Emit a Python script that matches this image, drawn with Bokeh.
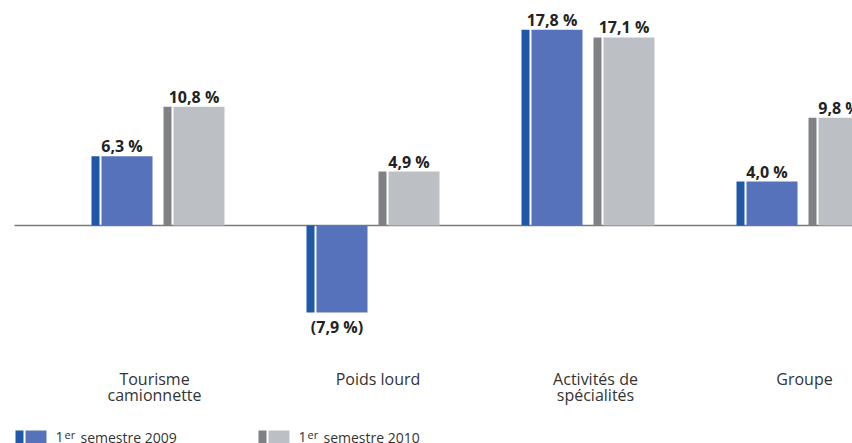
from bokeh.plotting import figure
from bokeh.models import Range1d, ColumnDataSource
from bokeh.core.properties import value
from bokeh.embed import file_html
from bokeh.resources import INLINE

# ---- data ----
categories = ["Tourisme\ncamionnette", "Poids lourd", "Activités de\nspécialités", "Groupe"]
s2009 = [6.3, -7.9, 17.8, 4.0]
s2010 = [10.8, 4.9, 17.1, 9.8]
series_names = ["semestre 2009", "semestre 2010"]

# ---- style ----
BLUE_DARK = "#1f58a8"
BLUE = "#5572ba"
GRAY_DARK = "#7f8184"
GRAY = "#bcc0c4"
FONT = "Open Sans"
TXT = "#333333"
LABEL_DX = [-3.5, 5.0, 7.5, 1.5]   # small horizontal nudges of category labels (px)

W, H = 852, 443
CAT_PX = 215.0        # pixels per category
PX_PER_UNIT = 11.0    # pixels per percent
X0_PX = 157.5         # screen x of first category centre
Y0_PX = 225.0         # screen y of zero line


def X(px):
    return (px - X0_PX) / CAT_PX


def Y(py):
    return (Y0_PX - py) / PX_PER_UNIT


def dx(px):
    return px / CAT_PX


p = figure(width=W, height=H, output_backend="svg", toolbar_location=None,
           x_range=Range1d(X(0), X(W)), y_range=Range1d(Y(H), Y(0)),
           min_border=0, outline_line_color=None)
p.axis.visible = False
p.grid.visible = False
p.background_fill_color = "white"

# zero line
p.segment(x0=[X(14)], y0=[0], x1=[X(870)], y1=[0], line_color="#7a7a7a", line_width=1.5)

idx = list(range(len(categories)))


def fmt(v):
    s = f"{abs(v):.1f}".replace(".", ",") + " %"
    return f"({s})" if v < 0 else s


for vals, off, dark, light in [(s2009, -36, BLUE_DARK, BLUE), (s2010, 36, GRAY_DARK, GRAY)]:
    src = ColumnDataSource(dict(
        x=[i + dx(off) for i in idx],
        top=[max(v, 0) for v in vals],
        bottom=[min(v, 0) for v in vals],
        label=[fmt(v) for v in vals],
        yoff=[-10 if v >= 0 else 15 for v in vals],
        sl=[i + dx(off - 30.5) for i in idx],
        sr=[i + dx(off - 22.5) for i in idx],
        ml=[i + dx(off - 20.5) for i in idx],
        mr=[i + dx(off + 30.5) for i in idx],
        y=vals,
    ))
    p.quad(left="sl", right="sr", top="top", bottom="bottom", source=src,
           fill_color=dark, line_color=None)
    p.quad(left="ml", right="mr", top="top", bottom="bottom", source=src,
           fill_color=light, line_color=None)
    p.text(x="x", y="y", text="label", source=src, y_offset="yoff",
           text_align="center", text_baseline="middle",
           text_font=value(FONT), text_font_style="bold",
           text_font_size="16px", text_color="#222222")

# category labels (one text per line)
for line_no, ypx in [(0, 378), (1, 394)]:
    xs, ts = [], []
    for i, c in enumerate(categories):
        parts = c.split("\n")
        if line_no < len(parts):
            xs.append(i + dx(LABEL_DX[i]))
            ts.append(parts[line_no])
    p.text(x=xs, y=[Y(ypx)] * len(xs), text=ts,
           text_align="center", text_baseline="middle",
           text_font=value(FONT), text_font_size="16px", text_color=TXT)

# legend
for (x0, dark, light, name) in [(15, BLUE_DARK, BLUE, series_names[0]),
                                (258, GRAY_DARK, GRAY, series_names[1])]:
    p.quad(left=[X(x0)], right=[X(x0 + 8)], top=[Y(430)], bottom=[Y(450)],
           fill_color=dark, line_color=None)
    p.quad(left=[X(x0 + 10)], right=[X(x0 + 31)], top=[Y(430)], bottom=[Y(450)],
           fill_color=light, line_color=None)
    p.text(x=[X(x0 + 40)], y=[Y(436.5)], text=["1"], text_baseline="middle",
           text_font=value(FONT), text_font_size="14px", text_color=TXT)
    p.text(x=[X(x0 + 49)], y=[Y(433.5)], text=["er"], text_baseline="middle",
           text_font=value(FONT), text_font_size="11px", text_color=TXT)
    p.text(x=[X(x0 + 65)], y=[Y(436.5)], text=[name], text_baseline="middle",
           text_font=value(FONT), text_font_size="14px", text_color=TXT)

open("out.html", "w").write(file_html(p, INLINE))
